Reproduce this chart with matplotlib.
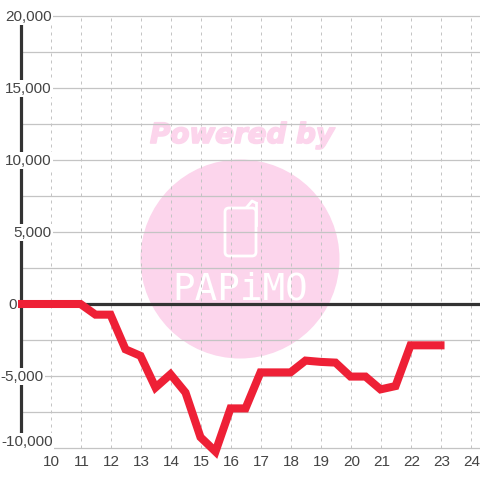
import matplotlib
matplotlib.use('Agg')
import matplotlib.pyplot as plt
import matplotlib.patheffects as pe
from matplotlib.patches import Circle, FancyBboxPatch

hours = [9, 9.5, 10, 10.5, 11, 11.5, 12, 12.5, 13, 13.5, 14, 14.5, 15, 15.5, 16, 16.5,
         17, 17.5, 18, 18.5, 19, 19.5, 20, 20.5, 21, 21.5, 22, 22.5, 23]
values = [0, 0, 0, 0, 0, -740, -740, -3150, -3600, -5800, -4880, -6150, -9250, -10250, -7250, -7250,
          -4750, -4750, -4750, -3930, -4020, -4070, -5040, -5040, -5930, -5700, -2870, -2870, -2870]
x_ticks = [10, 11, 12, 13, 14, 15, 16, 17, 18, 19, 20, 21, 22, 23, 24]
y_ticks = [20000, 15000, 10000, 5000, 0, -5000, -10000]
y_labels = ['20,000', '15,000', '10,000', '5,000', '0', '-5,000', '-10,000']
y_minor = [17500, 12500, 7500, 2500, -2500, -7500]

plt.rcParams['font.family'] = ['Liberation Sans', 'DejaVu Sans']

DARK = '#333333'
TEXT = '#444444'
GRID = '#c4c4c4'
PINK = '#fcd5ec'
RED = '#ee2036'

fig = plt.figure(figsize=(4.8, 4.8), dpi=100)

# watermark sits under the chart, in pixel coordinates
bg = fig.add_axes([0, 0, 1, 1], zorder=0)
bg.set_xlim(0, 480)
bg.set_ylim(480, 0)
bg.axis('off')
bg.add_patch(Circle((240, 259), 99.5, color=PINK, lw=0))
bg.text(242, 135, 'Powered by', color=PINK, fontsize=20, fontweight='bold', fontstyle='italic',
        family='DejaVu Sans', ha='center', va='center',
        path_effects=[pe.withStroke(linewidth=1.2, foreground=PINK)])
bg.add_patch(FancyBboxPatch((225, 208), 31, 48, boxstyle='round,pad=0,rounding_size=4',
                            fc='none', ec='white', lw=2))
bg.plot([247, 252, 256], [207, 201, 203], color='white', lw=2)
bg.plot([256, 256], [203, 225], color='white', lw=2)
bg.text(240, 289, 'PAPiMO', color='white', fontsize=27, family='DejaVu Sans Mono', ha='center', va='center')

ax = fig.add_axes([0, 0, 1, 1], zorder=1)
ax.patch.set_alpha(0)
ax.axis('off')
ax.set_xlim(10 - 50.5 / 30, 10 + 429.5 / 30)
ax.set_ylim(-(480 - 304) / 0.0144, 304 / 0.0144)

x_left, x_right = ax.get_xlim()
ax.hlines(y_ticks + y_minor, 9, x_right, color=GRID, lw=0.9, zorder=1)
ax.vlines(x_ticks, -10000, 20000, color=GRID, lw=0.72, linestyles=(0, (3, 4)), zorder=1)
ax.plot([9, 9], [-9400, 19450], color=DARK, lw=2.3, zorder=2, solid_capstyle='butt')
ax.plot([9, x_right], [0, 0], color=DARK, lw=2.3, zorder=2, solid_capstyle='butt')
ax.plot(hours, values, color=RED, lw=5.8, zorder=3, solid_joinstyle='miter', solid_capstyle='projecting')

for v, label in zip(y_ticks, y_labels):
    pos = {-10000: -9550}.get(v, v - 40)
    right = {'0': 16.5, '-5,000': 43.5, '-10,000': 52.5}.get(label, 51.5)
    ax.text(10 + (right - 50.5) / 30, pos, label, color=TEXT, fontsize=11, ha='right', va='center',
            zorder=4, bbox=dict(fc='white', ec='none', pad=1))
for v in x_ticks:
    ax.text(v + 0.03, -10950, str(v), color=TEXT, fontsize=11, ha='center', va='center', zorder=4)

fig.savefig('out.png', dpi=100)
plt.close()
